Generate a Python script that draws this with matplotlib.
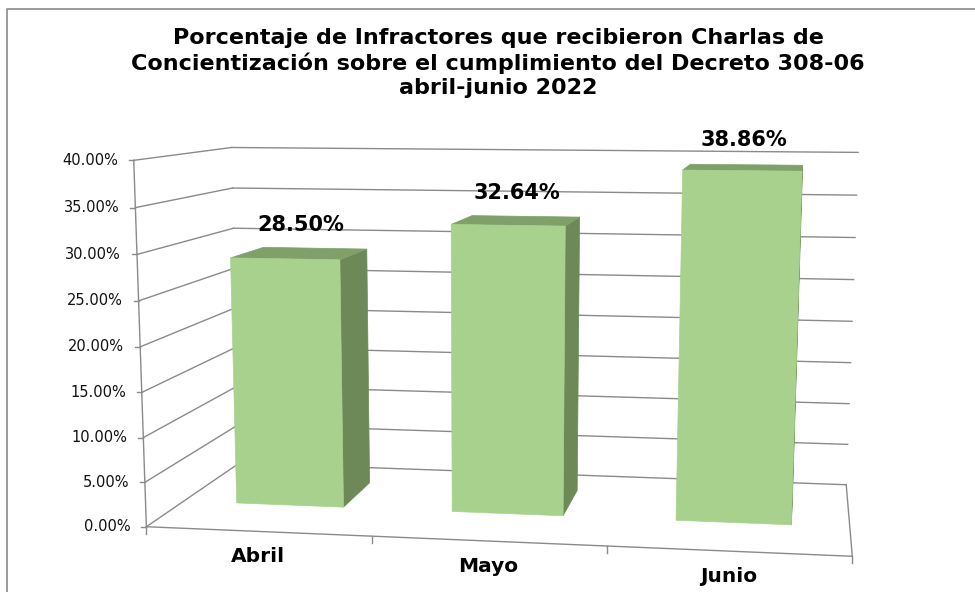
import numpy as np
import matplotlib.pyplot as plt
from matplotlib.patches import Polygon

# datos del grafico
meses = ['Abril', 'Mayo', 'Junio']
porcentajes = [28.50, 32.64, 38.86]
ticks_y = [0, 5, 10, 15, 20, 25, 30, 35, 40]
titulo = ('Porcentaje de Infractores que recibieron Charlas de\n'
          'Concientización sobre el cumplimiento del Decreto 308-06\n'
          'abril-junio 2022')

W, H = 975, 592
n = len(meses)
y_max = float(ticks_y[-1])

# camara: esquinas de la caja 3D (categoria, valor, profundidad) -> pixel
# profundidad 0 = pared del fondo, 1 = borde frontal del piso
caja_3d = [(0, 40, 0), (n, 40, 0), (0, 30, 0), (0, 0, 0), (n, 20, 0), (n, 0, 0),
           (0, 40, 1), (0, 30, 1), (0, 20, 1), (0, 0, 1), (1, 0, 1), (2, 0, 1), (n, 0, 1)]
caja_px = [(232, 147), (858, 153), (235, 227), (238, 466), (852, 321), (846, 483),
           (133, 161), (136, 255), (140, 347), (148, 523), (372, 537), (607, 547), (853, 557)]

# ajuste DLT de la matriz de proyeccion
A = []
for (X, Y, Z), (u, v) in zip(caja_3d, caja_px):
    X, Y = X / n, Y / y_max
    u, v = u / 1000, v / 1000
    A.append([X, Y, Z, 1, 0, 0, 0, 0, -u * X, -u * Y, -u * Z, -u])
    A.append([0, 0, 0, 0, X, Y, Z, 1, -v * X, -v * Y, -v * Z, -v])
P = np.linalg.svd(np.array(A))[2][-1].reshape(3, 4)


def proyectar(x, y, z):
    p = P @ np.array([x / n, y / y_max, z, 1.0])
    return p[0] / p[2] * 1000, p[1] / p[2] * 1000


def linea(ax, a, b, **kw):
    pa, pb = proyectar(*a), proyectar(*b)
    ax.plot([pa[0], pb[0]], [pa[1], pb[1]], **kw)


def area(pts):
    pts = np.array(pts)
    x, y = pts[:, 0], pts[:, 1]
    return 0.5 * np.sum(x * np.roll(y, -1) - np.roll(x, -1) * y)


def caras(x0, x1, y0, y1, z0, z1):
    return [
        ('izq', [(x0, y0, z0), (x0, y0, z1), (x0, y1, z1), (x0, y1, z0)]),
        ('der', [(x1, y0, z1), (x1, y0, z0), (x1, y1, z0), (x1, y1, z1)]),
        ('arriba', [(x0, y1, z1), (x1, y1, z1), (x1, y1, z0), (x0, y1, z0)]),
        ('frente', [(x0, y0, z1), (x1, y0, z1), (x1, y1, z1), (x0, y1, z1)]),
    ]


colores = {'frente': '#A9D18E', 'der': '#6D8958', 'izq': '#6D8958', 'arriba': '#80A06A'}
gris = '#8A8A8A'

fig = plt.figure(figsize=(W / 100, H / 100), dpi=100)
ax = fig.add_axes([0, 0, 1, 1])
ax.set_xlim(0, W)
ax.set_ylim(H, 0)
ax.axis('off')

# marco del area del grafico
ax.plot([7, 7, W], [H, 9, 9], color=gris, lw=1.2, zorder=1)

ax.text(498, 63, titulo, ha='center', va='center', fontsize=16, fontweight='bold',
        linespacing=1.28, family='DejaVu Sans')

# lineas de cuadricula (pared del fondo y pared izquierda)
for t in ticks_y:
    linea(ax, (0, t, 0), (n, t, 0), color=gris, lw=1.0, zorder=1)
    linea(ax, (0, t, 1), (0, t, 0), color=gris, lw=1.0, zorder=1)
    px, py = proyectar(0, t, 1)
    ax.plot([px - 5, px], [py, py], color=gris, lw=1.0, zorder=1)
    ax.text(px - 16, py, f'{t:.2f}%', ha='right', va='center', fontsize=10.5,
            family='DejaVu Sans', color='#111111')

# ejes y bordes del piso
linea(ax, (0, 0, 1), (0, y_max, 1), color=gris, lw=1.0, zorder=1)
linea(ax, (0, 0, 1), (n, 0, 1), color=gris, lw=1.0, zorder=1)
linea(ax, (n, 0, 0), (n, 0, 1), color=gris, lw=1.0, zorder=1)
for i in range(n + 1):
    px, py = proyectar(i, 0, 1)
    ax.plot([px, px], [py, py + 7], color=gris, lw=1.0, zorder=1)

# barras 3D
ancho = 0.25
z_barra = (0.25, 0.63)
for i, (mes, val) in enumerate(zip(meses, porcentajes)):
    lst = caras(i + ancho, i + 1 - ancho, 0, val, *z_barra)
    pts2d = {k: [proyectar(*p) for p in v] for k, v in lst}
    ref = np.sign(area(pts2d['frente']))
    for k, _ in lst:
        a = area(pts2d[k])
        if np.sign(a) == ref and abs(a) > 1:
            ax.add_patch(Polygon(pts2d[k], closed=True, facecolor=colores[k],
                                 edgecolor=colores[k], lw=0.5, zorder=3 + i))
    lx, ly = proyectar(i + 0.5, val, sum(z_barra) / 2)
    ax.text(lx, ly - 28, f'{val:.2f}%', ha='center', va='center', fontsize=15,
            fontweight='bold', family='DejaVu Sans', zorder=10)
    cx, cy = proyectar(i + 0.5, 0, 1)
    ax.text(cx, cy + 25, mes, ha='center', va='center', fontsize=14.5,
            fontweight='bold', family='DejaVu Sans', zorder=10)

fig.savefig('out.png', dpi=100)
